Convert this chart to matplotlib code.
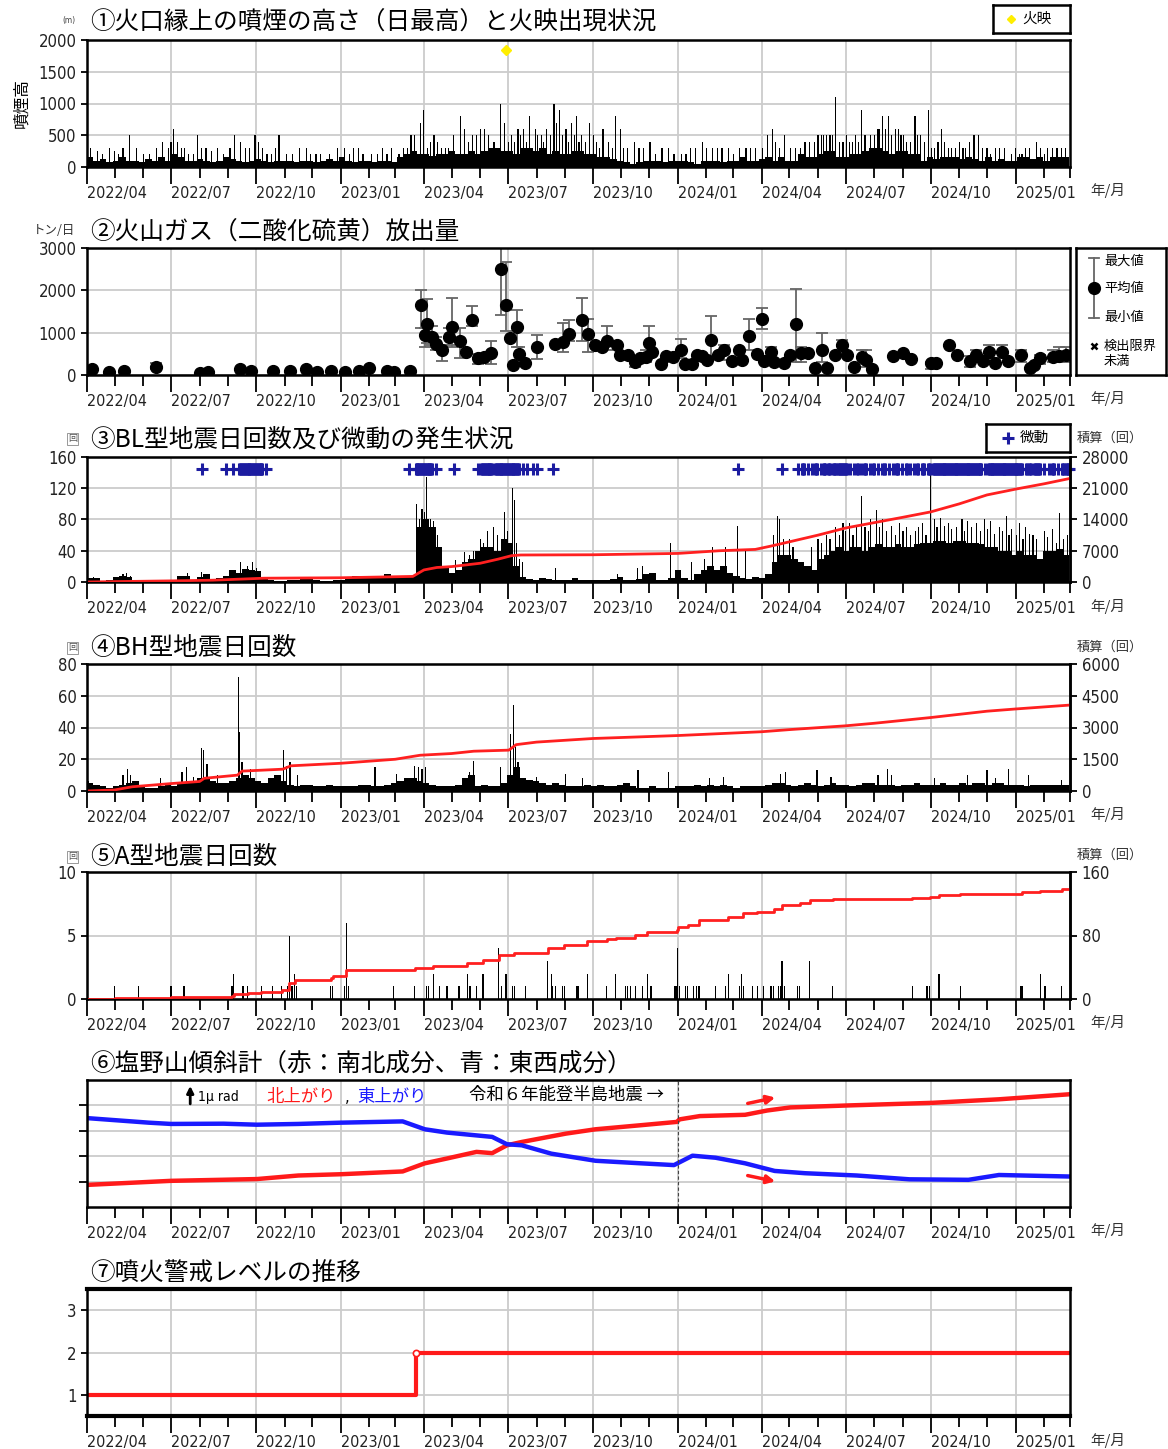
import numpy as np
import pandas as pd
import matplotlib
matplotlib.use('Agg')
import matplotlib.pyplot as plt
import matplotlib.dates as mdates
from matplotlib import font_manager

# narrow face for numbers if one is installed, otherwise Liberation Sans
fonts = font_manager.fontManager.ttflist
narrow = [f.name for f in fonts if f.stretch in ('condensed', 'semi-condensed', 'extra-condensed')]
NUM = 'Liberation Sans'
for cand in ['Liberation Sans Narrow', 'DejaVu Sans', 'Noto Sans', 'Roboto', 'Open Sans']:
    if cand in narrow:
        NUM = cand
        plt.rcParams['font.stretch'] = 'condensed'
        break
JP = ['Noto Sans CJK JP', 'DejaVu Sans']
plt.rcParams['font.family'] = [NUM, 'Noto Sans CJK JP', 'DejaVu Sans']
XSZ, YSZ = (11.5, 12) if NUM != 'Liberation Sans' else (10.5, 11)

T0, T1 = '2022-04-01', '2025-03-01'
N = np.nan

# ---------------- (1) plume height: weekly typical level + tall days (m)
plume_week = [150,100,120,80,100,150,100,100,80,120,100,150,100,
              200,150,100,100,120,100,80,100,150,120,100,80,100,
              120,100,80,100,100,100,80,100,100,80,100,120,100,
              150,100,80,100,100,80,100,100,80,150,200,250,200,
              200,180,200,200,250,200,200,250,200,250,300,300,250,
              250,200,300,300,250,300,200,250,200,200,250,250,200,
              200,150,150,120,100,80,50,80,100,100,100,80,100,
              100,100,80,50,100,100,100,80,100,100,150,100,100,
              120,150,100,150,100,100,200,150,150,200,250,250,150,
              150,200,200,250,300,300,250,200,250,250,200,200,100,
              150,120,150,150,150,120,150,120,100,150,100,120,100,
              100,150,150,120,150,100,150,150,150]
plume_day = ['2022-04-05','2022-04-12','2022-04-25','2022-05-05','2022-05-17','2022-05-25','2022-06-08','2022-06-22','2022-07-01','2022-07-04','2022-07-12','2022-07-20','2022-07-30','2022-08-08','2022-08-20','2022-09-08','2022-09-14','2022-09-20','2022-09-30','2022-10-08','2022-10-18','2022-10-26','2022-11-10','2022-11-25','2022-12-05','2022-12-20',
             '2023-01-05','2023-01-15','2023-01-25','2023-02-10','2023-02-20','2023-03-10','2023-03-18','2023-03-28','2023-04-01','2023-04-05','2023-04-12','2023-04-20','2023-04-28','2023-05-11','2023-05-15','2023-05-24','2023-06-01','2023-06-06','2023-06-23','2023-06-27','2023-07-05','2023-07-12','2023-07-18','2023-07-24','2023-07-31','2023-08-06','2023-08-12','2023-08-20','2023-08-26','2023-09-02','2023-09-08','2023-09-13','2023-09-19','2023-09-27','2023-10-05','2023-10-12','2023-10-26','2023-10-31','2023-11-08','2023-11-15','2023-11-25','2023-12-02','2023-12-15',
             '2024-01-10','2024-01-20','2024-01-28','2024-02-08','2024-02-18','2024-03-01','2024-03-15','2024-03-25','2024-04-07','2024-04-13','2024-04-20','2024-04-26','2024-05-08','2024-05-18','2024-05-28','2024-06-05','2024-06-10','2024-06-14','2024-06-20','2024-06-28','2024-07-05','2024-07-12','2024-07-18','2024-07-28','2024-08-05','2024-08-10','2024-08-16','2024-08-24','2024-08-30','2024-09-05','2024-09-14','2024-09-20','2024-09-29','2024-10-05','2024-10-13','2024-10-20','2024-10-28','2024-11-05','2024-11-12','2024-11-17','2024-11-22','2024-12-05','2024-12-15','2024-12-28',
             '2025-01-05','2025-01-12','2025-01-24','2025-02-01','2025-02-10','2025-02-20']
plume_peak = [300,250,300,200,500,300,200,400,400,600,300,200,500,300,300,500,400,300,500,300,200,500,200,300,200,200,
              300,300,200,200,200,300,500,700,900,300,500,300,300,800,600,500,600,600,1000,700,500,600,600,800,600,500,600,1000,900,600,700,800,500,700,400,600,800,600,300,400,300,400,300,
              200,300,400,300,300,200,300,300,500,600,300,500,300,400,400,500,500,500,1100,400,400,500,900,500,600,800,800,600,500,400,800,500,900,300,600,300,300,300,400,500,500,200,300,200,
              200,300,400,200,300,300]
plume_day_mid = ['2022-04-18','2022-05-01','2022-05-10','2022-06-01','2022-06-15','2022-06-28','2022-07-08','2022-07-16','2022-07-25','2022-08-03','2022-08-14','2022-08-27','2022-09-03','2022-09-24','2022-10-04','2022-10-13','2022-10-22','2022-11-03','2022-11-17','2022-11-29','2022-12-10','2022-12-28',
                 '2023-01-10','2023-01-20','2023-02-03','2023-02-15','2023-02-25','2023-03-05','2023-03-14','2023-03-22','2023-04-08','2023-04-16','2023-04-24','2023-05-03','2023-05-19','2023-05-28','2023-06-10','2023-06-16','2023-07-02','2023-07-08','2023-07-15','2023-07-21','2023-08-02','2023-08-09','2023-08-16','2023-08-23','2023-08-29','2023-09-05','2023-09-11','2023-09-16','2023-09-23','2023-10-02','2023-10-08','2023-10-18','2023-10-22','2023-11-03','2023-11-20','2023-12-08','2023-12-22','2023-12-28',
                 '2024-01-05','2024-01-15','2024-02-01','2024-02-13','2024-02-25','2024-03-08','2024-03-20','2024-04-02','2024-04-16','2024-05-02','2024-05-13','2024-05-23','2024-06-01','2024-06-07','2024-06-17','2024-06-24','2024-07-02','2024-07-08','2024-07-15','2024-07-22','2024-08-01','2024-08-07','2024-08-13','2024-08-20','2024-08-27','2024-09-02','2024-09-09','2024-09-17','2024-09-24','2024-10-02','2024-10-09','2024-10-16','2024-10-24','2024-11-01','2024-11-08','2024-11-26','2024-12-01','2024-12-10','2024-12-20',
                 '2025-01-01','2025-01-08','2025-01-16','2025-01-28','2025-02-05','2025-02-15','2025-02-24']
plume_mid = [200,250,300,200,300,300,400,300,200,300,250,200,300,300,400,200,300,200,300,200,200,300,
             200,300,200,300,300,200,300,500,400,400,300,500,400,500,500,400,400,400,500,400,500,400,500,700,500,400,500,400,400,500,300,400,300,300,300,200,300,200,
             200,300,300,300,300,300,300,300,400,300,300,400,500,500,500,400,500,400,400,500,500,600,600,500,600,500,400,500,400,300,400,400,300,400,300,300,300,300,300,
             300,200,300,300,300,300,300]
glow_day = ['2023-06-29']
glow_val = [1850]

# ---------------- (2) SO2 emission (t/day)
so2_day = ['2022-04-06','2022-04-25','2022-05-11','2022-06-15','2022-08-01','2022-08-10','2022-09-14','2022-09-26','2022-10-19','2022-11-07','2022-11-24','2022-12-06','2022-12-21',
           '2023-01-06','2023-01-21','2023-01-31','2023-02-20','2023-02-28','2023-03-17','2023-03-29','2023-04-02','2023-04-04','2023-04-10','2023-04-14','2023-04-21','2023-04-28',
           '2023-05-01','2023-05-10','2023-05-17','2023-05-23','2023-05-30','2023-06-05','2023-06-13','2023-06-23','2023-06-29','2023-07-03','2023-07-07','2023-07-11','2023-07-13',
           '2023-07-19','2023-08-01','2023-08-21','2023-08-30','2023-09-05','2023-09-19','2023-09-26','2023-10-03','2023-10-11','2023-10-16','2023-10-27','2023-10-31','2023-11-08',
           '2023-11-16','2023-11-21','2023-11-28','2023-12-01','2023-12-04','2023-12-14','2023-12-19','2023-12-27','2024-01-05','2024-01-09','2024-01-17','2024-01-22','2024-01-27',
           '2024-02-02','2024-02-06','2024-02-14','2024-02-20','2024-02-29','2024-03-07','2024-03-11','2024-03-18','2024-03-27','2024-04-01','2024-04-04','2024-04-11','2024-04-14',
           '2024-04-25','2024-05-02','2024-05-08','2024-05-14','2024-05-21','2024-05-29','2024-06-05','2024-06-11','2024-06-19','2024-06-27','2024-07-02','2024-07-10','2024-07-19',
           '2024-07-23','2024-07-30','2024-08-21','2024-09-01','2024-09-10','2024-10-01','2024-10-07','2024-10-21','2024-10-30','2024-11-13','2024-11-19','2024-11-27','2024-12-03',
           '2024-12-10','2024-12-17','2024-12-24','2025-01-07','2025-01-17','2025-01-21','2025-01-28','2025-02-11','2025-02-17','2025-02-25']
so2_mean = [150,70,100,200,50,70,130,100,100,90,130,80,100,
            80,100,160,100,60,100,1650,950,1200,900,730,580,900,
            1130,800,550,1300,400,430,530,2500,1650,870,230,1130,500,
            280,650,730,780,970,1300,980,700,650,800,720,480,470,
            300,400,430,750,550,270,460,420,580,250,250,480,440,
            350,820,480,600,330,580,350,920,500,1330,330,550,300,
            280,480,1200,530,530,170,600,170,480,700,470,200,420,
            350,150,450,530,380,280,280,700,480,320,480,330,540,
            280,550,330,480,170,230,400,420,450,480]
so2_min = [N,N,N,130,N,N,N,N,N,N,N,N,N,
           N,N,N,N,N,N,1100,650,750,700,600,340,700,
           650,400,N,1150,250,N,270,1420,1050,N,N,650,320,
           N,380,N,550,800,800,550,N,N,600,N,N,N,
           200,N,300,450,N,N,N,N,400,N,N,N,N,
           N,450,N,350,N,N,N,600,N,1080,N,400,N,
           N,N,300,300,N,N,300,N,N,550,N,N,250,
           200,N,N,N,N,150,N,N,N,200,350,N,400,
           N,400,N,300,N,N,250,300,300,300]
so2_max = [N,N,N,290,N,N,N,N,N,N,N,N,N,
           N,N,N,N,N,N,2000,1100,1800,1150,900,700,1100,
           1820,1100,N,1620,500,N,800,3000,2680,N,N,1530,650,
           N,950,N,1220,1300,1820,1330,N,N,1150,N,N,N,
           450,N,600,1150,N,N,N,N,850,N,N,N,N,
           N,1400,N,700,N,N,N,1330,N,1580,N,650,N,
           N,N,2030,650,N,N,1000,N,N,820,N,N,600,
           600,N,N,N,N,300,N,N,N,450,600,N,700,
           N,700,N,600,N,N,480,600,650,650]

# ---------------- (3) BL-type earthquakes: weekly typical level + tall days, cumulative, tremor spans
bl_week = [5,5,1,3,6,8,6,2,0,0,1,0,1,
           3,8,8,3,6,10,4,5,8,15,12,16,15,
           14,6,2,1,1,2,3,5,4,2,1,1,2,
           2,6,8,8,6,8,8,10,8,8,8,8,70,
           80,70,45,20,12,15,25,30,40,45,45,40,55,
           50,20,6,4,3,5,4,3,2,3,5,2,2,
           2,2,3,4,6,3,2,4,10,12,3,2,5,
           15,5,3,10,15,20,15,20,12,8,5,4,6,
           5,10,25,35,35,30,25,20,15,30,35,40,45,
           40,45,45,40,45,48,45,45,48,45,45,48,50,
           50,52,52,50,52,52,50,50,48,45,45,40,40,
           35,40,35,35,30,40,40,42,35]
bl_day = ['2022-04-08','2022-05-10','2022-05-14','2022-05-18','2022-07-19','2022-08-03','2022-09-05','2022-09-14','2022-09-22','2022-09-27','2022-10-02',
          '2023-03-24','2023-03-27','2023-03-30','2023-04-02','2023-04-04','2023-04-08','2023-04-11','2023-04-16','2023-04-19','2023-05-05','2023-05-15','2023-05-20','2023-05-25',
          '2023-06-01','2023-06-05','2023-06-09','2023-06-15','2023-06-20','2023-06-27','2023-07-01','2023-07-06','2023-07-08','2023-07-10','2023-07-14','2023-07-17','2023-08-22',
          '2023-10-28','2023-11-18','2023-11-24','2023-12-24',
          '2024-01-16','2024-01-30','2024-02-08','2024-02-22','2024-03-06','2024-03-14','2024-04-14','2024-04-18','2024-04-20','2024-04-25','2024-05-01','2024-05-05','2024-05-25',
          '2024-06-01','2024-06-10','2024-06-20','2024-06-28','2024-07-05','2024-07-18','2024-07-22','2024-07-28','2024-08-03','2024-08-10','2024-08-20','2024-08-28','2024-09-05',
          '2024-09-15','2024-09-22','2024-10-01','2024-10-05','2024-10-12','2024-10-20','2024-11-04','2024-11-10','2024-11-20','2024-11-28','2024-12-05','2024-12-15','2024-12-22','2024-12-28',
          '2025-01-05','2025-01-12','2025-01-20','2025-02-01','2025-02-10','2025-02-18','2025-02-22','2025-02-26',
          '2024-06-05','2024-06-14','2024-06-24','2024-07-01','2024-07-09','2024-07-13','2024-07-26','2024-08-07','2024-08-14','2024-08-24','2024-09-01','2024-09-09','2024-09-18',
          '2024-09-26','2024-10-08','2024-10-16','2024-10-24','2024-10-29','2024-11-07','2024-11-14','2024-11-24','2024-12-02','2024-12-09','2024-12-18','2024-12-25',
          '2025-01-02','2025-01-09','2025-01-16','2025-01-24','2025-02-05','2025-02-14']
bl_peak = [7,10,12,8,12,13,15,25,20,25,18,
           100,80,93,90,134,80,78,60,30,28,38,35,40,
           55,50,65,70,60,90,65,120,105,50,30,25,18,
           10,18,20,50,
           25,30,45,45,72,40,60,85,80,55,55,45,45,
           55,60,70,75,75,110,70,80,92,80,72,75,70,
           65,75,142,80,82,75,80,78,75,80,78,70,85,68,
           75,70,60,65,68,88,55,60,
           50,55,60,65,60,70,65,70,65,60,65,60,70,
           60,70,72,68,70,65,70,65,68,62,65,60,
           60,55,62,55,58,50]
bl_cum_day = ['2022-04-01','2022-07-01','2022-08-15','2022-10-10','2023-01-01','2023-03-20','2023-04-01','2023-04-15','2023-05-01','2023-06-01','2023-06-20','2023-07-05',
              '2023-07-15','2023-10-01','2024-01-01','2024-02-15','2024-03-25','2024-04-10','2024-05-01','2024-06-01','2024-07-01','2024-08-01','2024-09-01','2024-10-01',
              '2024-11-01','2024-12-01','2025-01-01','2025-02-01','2025-03-01']
bl_cum = [0,250,400,850,950,1250,2700,3250,3450,4200,5100,5900,
          6050,6100,6400,7000,7300,8000,9000,10500,12100,13300,14500,15700,
          17500,19500,20800,22000,23200]
tremor_spans = [('2022-08-04','2022-08-04'),('2022-08-30','2022-08-30'),('2022-09-06','2022-09-06'),('2022-09-13','2022-10-08'),('2022-10-12','2022-10-12'),
                ('2023-03-16','2023-03-16'),('2023-03-23','2023-04-10'),('2023-04-14','2023-04-14'),('2023-05-04','2023-05-04'),('2023-05-30','2023-05-30'),
                ('2023-06-02','2023-06-14'),('2023-06-17','2023-07-13'),('2023-07-17','2023-07-17'),('2023-07-22','2023-07-22'),('2023-07-28','2023-07-28'),
                ('2023-08-02','2023-08-02'),('2023-08-19','2023-08-19'),
                ('2024-03-06','2024-03-06'),('2024-04-23','2024-04-23'),('2024-05-10','2024-05-10'),('2024-05-15','2024-05-17'),('2024-05-21','2024-05-21'),
                ('2024-05-25','2024-05-25'),('2024-05-29','2024-05-31'),('2024-06-04','2024-06-04'),('2024-06-07','2024-06-09'),('2024-06-12','2024-06-14'),
                ('2024-06-17','2024-06-20'),('2024-06-23','2024-07-02'),('2024-07-06','2024-07-06'),('2024-07-10','2024-07-10'),('2024-07-13','2024-07-14'),
                ('2024-07-18','2024-07-18'),('2024-07-21','2024-07-23'),('2024-07-27','2024-07-27'),('2024-07-31','2024-08-01'),('2024-08-05','2024-08-05'),
                ('2024-08-09','2024-08-09'),('2024-08-12','2024-08-13'),('2024-08-17','2024-08-17'),('2024-08-21','2024-08-21'),('2024-08-25','2024-08-27'),
                ('2024-08-31','2024-08-31'),('2024-09-04','2024-09-05'),('2024-09-09','2024-09-09'),('2024-09-13','2024-09-13'),('2024-09-16','2024-09-17'),
                ('2024-09-22','2024-09-24'),('2024-09-28','2024-09-30'),('2024-10-04','2024-11-25'),('2024-11-29','2024-11-29'),('2024-12-02','2025-01-08'),
                ('2025-01-12','2025-01-13'),('2025-01-16','2025-01-18'),('2025-01-21','2025-01-27'),('2025-02-01','2025-02-01'),('2025-02-06','2025-02-06'),
                ('2025-02-10','2025-02-12'),('2025-02-16','2025-02-16'),('2025-02-20','2025-02-22'),('2025-02-25','2025-02-28')]

# ---------------- (4) BH-type earthquakes
bh_week = [5,4,3,2,3,4,5,6,3,2,2,3,4,
           3,5,5,6,8,8,6,5,5,6,8,10,8,
           6,5,8,10,6,4,3,4,4,3,3,4,3,
           3,3,3,4,4,3,3,4,5,6,8,8,6,
           5,4,3,3,3,4,8,10,3,4,3,3,5,
           10,15,8,7,6,5,4,5,4,3,3,3,4,
           3,4,3,3,4,5,3,2,2,3,2,2,2,
           3,3,3,4,3,4,3,4,3,2,3,3,3,
           3,4,5,5,4,3,4,5,4,3,4,5,4,
           4,3,4,5,5,4,4,4,3,4,4,5,4,
           4,4,5,4,4,5,4,5,5,4,5,5,4,
           4,4,3,4,4,4,4,4,4]
bh_day = ['2022-04-03','2022-05-10','2022-05-15','2022-05-18','2022-06-20','2022-07-13','2022-07-18','2022-07-25','2022-08-03','2022-08-05','2022-08-09','2022-08-20',
          '2022-09-12','2022-09-13','2022-09-16','2022-09-25','2022-10-31','2022-11-03','2022-11-07','2022-11-15',
          '2023-02-07','2023-03-02','2023-03-22','2023-03-26','2023-03-30','2023-04-03','2023-05-20','2023-05-25','2023-06-23','2023-07-04','2023-07-07','2023-07-09',
          '2023-07-12','2023-08-01','2023-09-01','2023-09-20','2023-11-19','2023-12-22',
          '2024-02-04','2024-02-20','2024-04-21','2024-04-27','2024-05-31','2024-06-15','2024-08-05','2024-08-15','2024-08-20','2024-10-05','2024-11-10','2024-12-01',
          '2024-12-10','2024-12-24','2025-01-15','2025-02-20']
bh_peak = [6,10,14,10,8,12,15,9,27,26,17,10,
           72,37,18,14,26,16,18,10,
           15,11,16,15,14,15,12,19,15,36,54,28,
           18,9,11,8,13,12,
           8,9,11,12,13,9,10,14,10,8,10,13,
           8,14,10,7]
bh_cum_day = ['2022-04-01','2022-05-01','2022-05-20','2022-07-01','2022-08-01','2022-08-06','2022-09-11','2022-09-16','2022-10-30','2022-11-08','2023-01-01','2023-03-01',
              '2023-03-28','2023-05-01','2023-05-25','2023-07-02','2023-07-10','2023-08-01','2023-10-01','2024-01-01','2024-04-01','2024-05-01','2024-07-01','2024-08-01',
              '2024-10-01','2024-12-01','2025-01-01','2025-03-01']
bh_cum = [0,50,200,350,450,600,750,940,1030,1190,1310,1500,
          1690,1770,1880,1930,2190,2310,2480,2620,2800,2900,3080,3200,
          3470,3770,3875,4060]

# ---------------- (5) A-type earthquakes
a_day = ['2022-05-01','2022-05-27','2022-07-01','2022-07-15','2022-09-05','2022-09-07','2022-09-17','2022-09-22','2022-10-07','2022-10-19','2022-10-29','2022-11-04',
         '2022-11-06','2022-11-09','2022-11-12','2022-11-14','2022-12-21','2022-12-23','2023-01-05','2023-01-07','2023-01-09','2023-02-27','2023-03-22','2023-04-04',
         '2023-04-06','2023-04-11','2023-04-18','2023-04-26','2023-05-09','2023-05-18','2023-05-21','2023-05-28','2023-06-04','2023-06-21','2023-06-24','2023-06-29',
         '2023-07-06','2023-07-08','2023-07-20','2023-08-13','2023-08-17','2023-08-18','2023-08-22','2023-08-29','2023-08-31','2023-09-13','2023-09-15','2023-09-25',
         '2023-10-16','2023-10-26','2023-11-05','2023-11-08','2023-11-11','2023-11-16','2023-11-24','2023-11-29','2023-12-03','2023-12-29','2023-12-31','2024-01-01',
         '2024-01-03','2024-01-09','2024-01-12','2024-01-18','2024-01-21','2024-01-24','2024-02-11','2024-02-22','2024-02-25','2024-03-08','2024-03-10','2024-03-12',
         '2024-03-22','2024-03-27','2024-04-03','2024-04-11','2024-04-14','2024-04-19','2024-04-21','2024-04-23','2024-04-26','2024-05-10','2024-05-12','2024-05-23',
         '2024-06-17','2024-09-11','2024-09-27','2024-09-30','2024-10-10','2024-11-02','2025-01-06','2025-01-08','2025-01-28','2025-02-02','2025-02-20']
a_count = [1,1,1,1,1,2,1,1,1,1,1,1,
           5,1,2,1,1,1,1,6,1,1,1,1,
           1,2,1,1,1,2,1,1,2,4,1,2,
           1,1,1,3,2,1,1,1,1,1,1,2,
           1,2,1,1,1,1,1,2,1,1,1,4,
           1,1,1,1,1,1,1,1,2,1,2,1,
           1,1,1,1,1,1,1,3,1,1,1,3,
           1,1,1,1,2,1,1,1,2,1,1]
a_cum_day = ['2022-04-01','2022-05-01','2022-07-01','2022-07-15','2022-09-05','2022-09-07','2022-09-22','2022-10-07','2022-10-29','2022-11-06','2022-11-12','2022-12-21',
             '2022-12-23','2023-01-07','2023-02-27','2023-03-22','2023-04-11','2023-05-18','2023-06-04','2023-06-21','2023-07-08','2023-08-13','2023-08-31','2023-09-25',
             '2023-10-16','2023-10-26','2023-11-16','2023-11-29','2023-12-31','2024-01-01','2024-01-12','2024-01-24','2024-02-25','2024-03-12','2024-03-27','2024-04-14',
             '2024-04-23','2024-05-12','2024-05-23','2024-06-17','2024-09-11','2024-09-30','2024-10-10','2024-11-02','2025-01-08','2025-01-28','2025-02-20','2025-03-01']
a_cum = [0,1,2,3,3.5,6,8,9,11,20,24,27,
         29,36,37,39,42,45,49,56,58,64,68,73,
         75,77,81,84,86.5,90.5,93.5,99,103,108,110,114,
         119,121,125,126.5,127,129,131.5,132,135,136.5,138,138]

# ---------------- (6) tilt (micro-radian, relative)
ns_day = ['2022-04-01','2022-07-01','2022-10-02','2022-11-16','2023-01-01','2023-03-09','2023-04-02','2023-04-26','2023-05-28','2023-06-14','2023-06-18','2023-06-30',
          '2023-07-16','2023-09-02','2023-10-04','2023-11-22','2023-12-31','2024-01-03','2024-01-25','2024-03-14','2024-04-07','2024-05-02','2024-07-05','2024-10-02',
          '2024-12-14','2025-03-01']
ns_tilt = [0.87,1.03,1.10,1.24,1.29,1.40,1.72,1.91,2.17,2.12,2.20,2.43,
           2.56,2.89,3.06,3.22,3.35,3.45,3.58,3.63,3.80,3.92,4.00,4.10,
           4.24,4.44]
ew_day = ['2022-04-01','2022-06-07','2022-07-01','2022-08-27','2022-10-02','2022-11-16','2023-01-01','2023-03-09','2023-04-02','2023-04-26','2023-06-14','2023-06-30',
          '2023-07-16','2023-08-17','2023-10-04','2023-11-22','2023-12-28','2024-01-17','2024-02-11','2024-03-14','2024-04-15','2024-05-18','2024-07-13','2024-09-08',
          '2024-11-11','2024-12-14','2025-03-01']
ew_tilt = [3.50,3.32,3.27,3.28,3.24,3.27,3.32,3.37,3.06,2.93,2.76,2.47,
           2.43,2.10,1.82,1.72,1.65,2.02,1.94,1.72,1.42,1.33,1.24,1.09,
           1.07,1.26,1.20]
noto_day = '2024-01-01'

# ---------------- (7) alert level
level_day = ['2022-04-01','2023-03-23','2025-03-01']
level = [1,2,2]

# ================= figure
W, H = 1168, 1449
fig = plt.figure(figsize=(W / 100, H / 100), dpi=100)


def px_axes(x0, y0, x1, y1):
    return fig.add_axes([x0 / W, 1 - y1 / H, (x1 - x0) / W, (y1 - y0) / H])


def ftext(x, y, s, **kw):
    kw.setdefault('va', 'center')
    fig.text(x / W, 1 - y / H, s, **kw)


def time_axis(ax, ybot):
    ax.set_xlim(pd.Timestamp(T0), pd.Timestamp(T1))
    ax.xaxis.set_major_locator(mdates.MonthLocator(bymonth=[1, 4, 7, 10]))
    ax.xaxis.set_minor_locator(mdates.MonthLocator())
    ax.xaxis.set_major_formatter(mdates.DateFormatter('%Y/%m'))
    ax.tick_params(axis='x', which='major', length=12, width=1.3, pad=2, labelsize=XSZ, labelcolor='#222222')
    ax.tick_params(axis='x', which='minor', length=8, width=1.3)
    plt.setp(ax.get_xticklabels(), ha='left')
    ax.tick_params(axis='y', length=4, width=1.3, labelsize=YSZ, labelcolor='#222222')
    ax.grid(axis='x', which='major', color='#cccccc', lw=1.3)
    ax.grid(axis='y', color='#cccccc', lw=1.3)
    ax.set_axisbelow(True)
    for sp in ax.spines.values():
        sp.set_linewidth(1.8)
    ftext(1090, ybot + 24, '年/月', fontsize=10.5, color='#333333', family=JP)


def title(y, s):
    ftext(90, y, s, fontsize=17.7, family=JP)


def unit_box(y):
    ftext(68, y, '回', fontsize=6.5, color='#555555', family=JP,
          bbox=dict(boxstyle='square,pad=0.15', fc='white', ec='#888888', lw=0.6))


def right_axis(ax, top, ticks, ybox):
    r = ax.twinx()
    r.set_ylim(0, top)
    r.set_yticks(ticks)
    r.tick_params(axis='y', length=5, width=1.3, labelsize=YSZ, labelcolor='#222222')
    r.spines['right'].set_linewidth(1.8)
    ftext(1077, ybox, '積算（回）', fontsize=9.5, color='#333333', family=JP)
    return r


weeks = lambda vals: pd.date_range(T0, periods=len(vals), freq='7D')
dt = lambda lst: pd.to_datetime(lst)

# ---- panel 1
ax1 = px_axes(87, 40, 1070, 167)
ax1.bar(weeks(plume_week), plume_week, width=7, align='edge', color='black', lw=0)
ax1.bar(dt(plume_day), plume_peak, width=1.3, color='black', lw=0)
ax1.bar(dt(plume_day_mid), plume_mid, width=1.3, color='black', lw=0)
ax1.plot(dt(glow_day), glow_val, 'D', color='#ffee00', ms=5, mec='#ffee00')
ax1.set_ylim(0, 2000)
ax1.set_yticks([0, 500, 1000, 1500, 2000])
time_axis(ax1, 167)
title(22, '①火口縁上の噴煙の高さ（日最高）と火映出現状況')
ftext(62, 20, '(m)', fontsize=6, color='#444444')
ftext(22, 103, '噴煙高', rotation=90, fontsize=12, ha='center', family=JP)
lg1 = px_axes(993, 5, 1070, 33)
lg1.set_xticks([]); lg1.set_yticks([])
for sp in lg1.spines.values():
    sp.set_linewidth(1.8)
lg1.set_xlim(0, 1); lg1.set_ylim(0, 1)
lg1.plot([0.23], [0.5], 'D', color='#ffee00', ms=4.5)
lg1.text(0.38, 0.5, '火映', va='center', fontsize=10.5, family=JP)

# ---- panel 2
ax2 = px_axes(87, 248, 1070, 375)
m = np.array(so2_mean, float)
lo = np.where(np.isnan(so2_min), m, so2_min)
hi = np.where(np.isnan(so2_max), m, so2_max)
ax2.errorbar(dt(so2_day), m, yerr=[m - lo, hi - m], fmt='o', color='black', ms=8.5,
             ecolor='#666666', elinewidth=1.3, capsize=4.5, capthick=1.3)
ax2.set_ylim(0, 3000)
ax2.set_yticks([0, 1000, 2000, 3000])
time_axis(ax2, 375)
title(232, '②火山ガス（二酸化硫黄）放出量')
ftext(33, 230, 'トン/日', fontsize=9, color='#333333', family=JP)
lg2 = px_axes(1076, 248, 1166, 375)
lg2.set_xticks([]); lg2.set_yticks([])
for sp in lg2.spines.values():
    sp.set_linewidth(1.8)
lg2.set_xlim(1076, 1166); lg2.set_ylim(375, 248)
lg2.plot([1094, 1094], [258, 318], color='#666666', lw=1.3)
lg2.plot([1089, 1099], [258, 258], color='#666666', lw=1.3)
lg2.plot([1089, 1099], [318, 318], color='#666666', lw=1.3)
lg2.plot([1094], [288], 'o', color='black', ms=8.5)
for yy, s in [(261, '最大値'), (288, '平均値'), (317, '最小値'), (346, '検出限界'), (361, '未満')]:
    lg2.text(1104, yy, s, va='center', fontsize=9.5, family=JP)
lg2.plot([1094], [346], 'x', color='black', ms=5, mew=1.8)

# ---- panel 3
ax3 = px_axes(87, 457, 1070, 582)
ax3.bar(weeks(bl_week), bl_week, width=7, align='edge', color='black', lw=0)
ax3.bar(dt(bl_day), bl_peak, width=1.3, color='black', lw=0)
trem = pd.DatetimeIndex(np.concatenate([pd.date_range(s, e, freq='D').values for s, e in tremor_spans]))
ax3.plot(trem, np.full(len(trem), 145), '+', color='#1c1ca0', ms=9, mew=2.2, clip_on=False)
ax3.set_ylim(0, 160)
ax3.set_yticks([0, 40, 80, 120, 160])
time_axis(ax3, 582)
r3 = right_axis(ax3, 28000, [0, 7000, 14000, 21000, 28000], 438)
r3.plot(dt(bl_cum_day), bl_cum, color='#ff2020', lw=2)
title(440, '③BL型地震日回数及び微動の発生状況')
unit_box(439)
lg3 = px_axes(986, 424, 1070, 452)
lg3.set_xticks([]); lg3.set_yticks([])
for sp in lg3.spines.values():
    sp.set_linewidth(1.8)
lg3.set_xlim(0, 1); lg3.set_ylim(0, 1)
lg3.plot([0.26], [0.5], '+', color='#1c1ca0', ms=9, mew=2.2)
lg3.text(0.4, 0.5, '微動', va='center', fontsize=10.5, family=JP)

# ---- panel 4
ax4 = px_axes(87, 664, 1070, 791)
ax4.bar(weeks(bh_week), bh_week, width=7, align='edge', color='black', lw=0)
ax4.bar(dt(bh_day), bh_peak, width=1.3, color='black', lw=0)
ax4.set_ylim(0, 80)
ax4.set_yticks([0, 20, 40, 60, 80])
time_axis(ax4, 791)
r4 = right_axis(ax4, 6000, [0, 1500, 3000, 4500, 6000], 647)
r4.plot(dt(bh_cum_day), bh_cum, color='#ff2020', lw=2)
title(648, '④BH型地震日回数')
unit_box(648)

# ---- panel 5
ax5 = px_axes(87, 872, 1070, 999)
ax5.bar(dt(a_day), a_count, width=1.3, color='black', lw=0)
ax5.set_ylim(0, 10)
ax5.set_yticks([0, 5, 10])
time_axis(ax5, 999)
r5 = right_axis(ax5, 160, [0, 80, 160], 855)
r5.plot(dt(a_cum_day), a_cum, color='#ff2020', lw=2, drawstyle='steps-post')
title(857, '⑤A型地震日回数')
unit_box(857)

# ---- panel 6
ax6 = px_axes(87, 1080, 1070, 1207)
ax6.plot(dt(ns_day), ns_tilt, color='#ff1a1a', lw=3.2)
ax6.plot(dt(ew_day), ew_tilt, color='#1a1aff', lw=3.2)
ax6.axvline(pd.Timestamp(noto_day), color='#444444', lw=0.8, ls=(0, (3, 2)))
ax6.set_ylim(0, 5)
ax6.set_yticks([1, 2, 3, 4])
ax6.set_yticklabels([])
time_axis(ax6, 1207)
ax6.tick_params(axis='y', length=6)
title(1064, '⑥塩野山傾斜計（赤：南北成分、青：東西成分）')
ax6.annotate('', xy=(0.105, 0.975), xytext=(0.105, 0.79), xycoords='axes fraction',
             arrowprops=dict(arrowstyle='-|>', color='black', lw=2, mutation_scale=10))
ftext(198, 1097, '1μ rad', fontsize=10)
ftext(266, 1097, '北上がり', fontsize=12.5, color='#ff1a1a', family=JP)
ftext(345, 1097, ',', fontsize=12)
ftext(357, 1097, '東上がり', fontsize=12.5, color='#1a1aff', family=JP)
ftext(469, 1095, '令和６年能登半島地震 →', fontsize=12.5, family=JP)
for (x0, y0, x1, y1) in [(745, 1104, 778, 1097), (745, 1175, 778, 1182)]:
    ax6.annotate('', xy=((x1 - 87) / 983, (1207 - y1) / 127), xytext=((x0 - 87) / 983, (1207 - y0) / 127),
                 xycoords='axes fraction',
                 arrowprops=dict(arrowstyle='-|>', color='#ff1a1a', lw=2.5, mutation_scale=12))

# ---- panel 7
ax7 = px_axes(87, 1289, 1070, 1416)
ax7.plot(dt(level_day), level, color='#ff1a1a', lw=3, drawstyle='steps-post')
ax7.plot(dt(level_day[1:2]), level[1:2], 'o', ms=4.5, mfc='white', mec='#ff1a1a', mew=1.2)
ax7.set_ylim(0.5, 3.5)
ax7.set_yticks([1, 2, 3])
time_axis(ax7, 1416)
ax7.spines['top'].set_linewidth(3)
ax7.spines['bottom'].set_linewidth(3)
title(1273, '⑦噴火警戒レベルの推移')

fig.savefig('out.png', dpi=100)
